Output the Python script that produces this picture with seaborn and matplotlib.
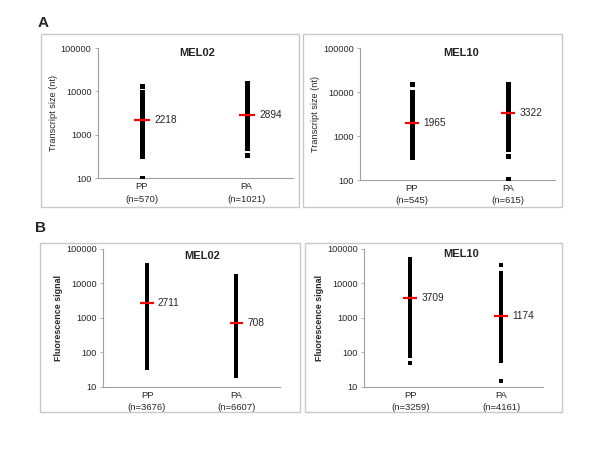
import pandas as pd
import seaborn as sns
import matplotlib.pyplot as plt
from matplotlib.patches import Rectangle

# values (dense columns typed as visible point positions)
groups = ["PP", "PA"]

a02_pp = [100, 330, 340, 370, 400, 440, 490, 540, 600, 670, 750, 840, 940, 1050, 1180, 1320,
          1480, 1660, 1860, 2090, 2340, 2620, 2940, 3300, 3700, 4150, 4650, 5200, 5800, 6500,
          7300, 8200, 9200, 9800, 13500]
a02_pa = [350, 500, 530, 590, 660, 740, 830, 930, 1040, 1170, 1310, 1470, 1650, 1850, 2070,
          2320, 2600, 2920, 3270, 3670, 4110, 4610, 5170, 5800, 6500, 7300, 8200, 9200, 10300,
          11500, 12900, 14400, 15500]
a10_pp = [330, 340, 360, 390, 430, 470, 520, 580, 640, 710, 790, 880, 980, 1090, 1210, 1350,
          1500, 1670, 1860, 2070, 2300, 2560, 2850, 3170, 3530, 3930, 4370, 4860, 5410, 6020,
          6700, 7450, 8300, 9200, 10000, 15000]
a10_pa = [105, 350, 500, 530, 590, 660, 740, 830, 930, 1040, 1170, 1310, 1470, 1650, 1850, 2070,
          2320, 2600, 2920, 3270, 3670, 4110, 4610, 5170, 5800, 6500, 7300, 8200, 9200, 10300,
          11500, 12900, 14400, 15500]
b02_pp = [36, 38, 44, 52, 62, 74, 88, 105, 125, 150, 180, 215, 260, 310, 370, 440, 530, 630,
          760, 910, 1090, 1300, 1560, 1870, 2240, 2690, 3220, 3860, 4630, 5550, 6660, 8000,
          9600, 11500, 13800, 16500, 19800, 23800, 28500, 33000]
b02_pa = [21, 22, 25, 29, 34, 40, 48, 57, 68, 82, 98, 118, 140, 170, 200, 240, 290, 350, 420,
          500, 600, 720, 860, 1030, 1240, 1490, 1790, 2150, 2580, 3100, 3700, 4450, 5350,
          6400, 7700, 9200, 11000, 13300, 15000, 16000]
b10_pp = [50, 78, 85, 100, 120, 145, 175, 210, 250, 300, 360, 430, 520, 620, 750, 900, 1080,
          1300, 1560, 1870, 2250, 2700, 3240, 3890, 4670, 5600, 6700, 8000, 9600, 11500,
          13800, 16600, 19900, 23900, 28700, 34400, 41300, 49500, 52000]
b10_pa = [15, 57, 60, 70, 82, 98, 118, 140, 170, 200, 240, 290, 350, 420, 500, 600, 720, 860,
          1030, 1240, 1490, 1790, 2150, 2580, 3100, 3700, 4450, 5350, 6400, 7700, 9200, 11000,
          13300, 16000, 19000, 20000, 35000]

medians_a02 = [2218, 2894]
medians_a10 = [1965, 3322]
medians_b02 = [2711, 708]
medians_b10 = [3709, 1174]

n_a02 = [570, 1021]
n_a10 = [545, 615]
n_b02 = [3676, 6607]
n_b10 = [3259, 4161]

sns.set_style("white")
plt.rcParams["font.family"] = ["Liberation Sans", "DejaVu Sans"]

fig = plt.figure(figsize=(6, 4.5), dpi=100)

# panel frames
for x0, y0, w, h in [(0.068, 0.540, 0.430, 0.384), (0.505, 0.540, 0.432, 0.384),
                     (0.067, 0.084, 0.433, 0.376), (0.508, 0.084, 0.429, 0.376)]:
    fig.add_artist(Rectangle((x0, y0), w, h, transform=fig.transFigure, fill=False,
                             ec="#c8c8c8", lw=1))

fig.text(0.072, 0.949, "A", fontsize=11, fontweight="bold", va="center", ha="center")
fig.text(0.067, 0.493, "B", fontsize=11, fontweight="bold", va="center", ha="center")


def panel(rect, pp, pa, medians, ns, title, ylabel, bold_label, ylim, xlim, msize, title_xy):
    ax = fig.add_axes(rect)
    df = pd.DataFrame({"group": ["PP"] * len(pp) + ["PA"] * len(pa), "value": pp + pa})
    sns.stripplot(data=df, x="group", y="value", order=groups, jitter=False, color="black",
                  size=msize, marker="s", linewidth=0, ax=ax)
    ax.set_yscale("log")
    ax.set_ylim(*ylim)
    ax.set_xlim(*xlim)
    for i, m in enumerate(medians):
        ax.hlines(m, i - 0.075, i + 0.075, color="red", lw=1.6, zorder=5)
        ax.text(i + 0.12, m, str(m), fontsize=7.3, va="center", ha="left")
    ticks = [10 ** k for k in range(len(str(ylim[0])) - 1, 6)]
    ax.set_yticks(ticks)
    ax.set_yticklabels([str(t) for t in ticks], fontsize=6.6)
    ax.minorticks_off()
    ax.set_xticks([0, 1])
    ax.set_xticklabels([f"{g}\n(n={n})" for g, n in zip(groups, ns)], fontsize=6.8,
                       linespacing=1.45)
    ax.set_xlabel("")
    ax.set_ylabel(ylabel, fontsize=6.4 if bold_label else 6.6,
                  fontweight="bold" if bold_label else "normal", labelpad=2)
    ax.text(title_xy[0], title_xy[1], title, transform=ax.transAxes, fontsize=8,
            fontweight="bold", ha="center", va="center")
    for s in ["top", "right"]:
        ax.spines[s].set_visible(False)
    for s in ["left", "bottom"]:
        ax.spines[s].set_color("#a0a0a0")
        ax.spines[s].set_linewidth(0.8)
    ax.tick_params(axis="y", length=2.5, width=0.6, color="#a0a0a0", pad=2, left=True)
    ax.tick_params(axis="x", length=0, pad=3)
    return ax


panel([0.163, 0.604, 0.325, 0.289], a02_pp, a02_pa, medians_a02, n_a02, "MEL02",
      "Transcript size (nt)", False, (100, 100000), (-0.42, 1.44), 3.6, (0.51, 0.96))
panel([0.600, 0.600, 0.325, 0.293], a10_pp, a10_pa, medians_a10, n_a10, "MEL10",
      "Transcript size (nt)", False, (100, 100000), (-0.54, 1.49), 3.6, (0.52, 0.96))
panel([0.172, 0.140, 0.295, 0.307], b02_pp, b02_pa, medians_b02, n_b02, "MEL02",
      "Fluorescence signal", True, (10, 100000), (-0.49, 1.49), 2.4, (0.56, 0.95))
panel([0.607, 0.140, 0.298, 0.307], b10_pp, b10_pa, medians_b10, n_b10, "MEL10",
      "Fluorescence signal", True, (10, 100000), (-0.505, 1.46), 2.4, (0.54, 0.96))

plt.savefig("out.png", dpi=100)
